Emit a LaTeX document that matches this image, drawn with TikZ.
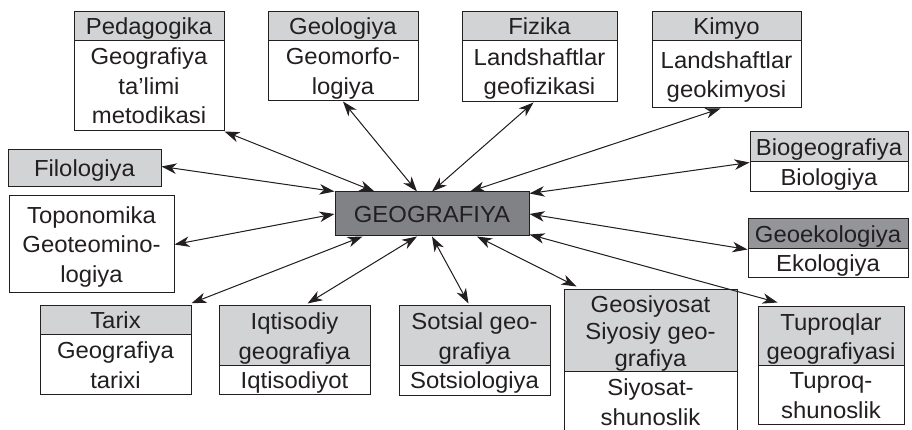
\documentclass[tikz,border=0pt]{standalone}
\usepackage{fontspec}
\setmainfont{Liberation Sans}[FakeStretch=1.03]
\usepackage{array}
\usetikzlibrary{arrows.meta}
\definecolor{lg}{HTML}{D1D3D4}
\definecolor{dg}{HTML}{808285}
\definecolor{mg}{HTML}{939598}
\definecolor{ink}{HTML}{231F20}
\newcommand\tb[2][29.5]{{\renewcommand\arraystretch{0}%
 \begin{tabular}{@{}>{\rule[\dimexpr(16.8pt-#1pt)/2\relax]{0pt}{#1pt}}c@{}}#2\end{tabular}}}
\begin{document}
\begin{tikzpicture}[x=1pt,y=1pt,
  >={Stealth[length=15pt,width=10.5pt,inset=4.5pt]},
  box/.style={draw=ink, line width=1pt, inner sep=0pt, text=ink, fill=white,
    font=\fontsize{23.2}{29.5}\selectfont},
  hd/.style={box, fill=lg},
  conn/.style={<->, draw=ink, fill=ink, line width=1pt}]
\useasboundingbox (0,0) rectangle (912,430);
% top row
\node[hd, minimum width=150pt, minimum height=29pt] (pedh) at (149,403.5) {\tb{Pedagogika}};
\node[box, minimum width=150pt, minimum height=90pt] (pedb) at (149,344) {\tb{Geografiya\\ta’limi\\metodikasi}};
\node[hd, minimum width=150pt, minimum height=29pt] (geoh) at (343,403.5) {\tb{Geologiya}};
\node[box, minimum width=150pt, minimum height=60pt] (geob) at (343,359) {\tb{Geomorfo-\\logiya}};
\node[hd, minimum width=155pt, minimum height=29pt] (fizh) at (539.5,403.5) {\tb{Fizika}};
\node[box, minimum width=155pt, minimum height=61pt] (fizb) at (539.5,358.5) {\tb{Landshaftlar\\geofizikasi}};
\node[hd, minimum width=149pt, minimum height=29pt] (kimh) at (726.5,403.5) {\tb{Kimyo}};
\node[box, minimum width=149pt, minimum height=67pt] (kimb) at (726.5,355.5) {\tb{Landshaftlar\\geokimyosi}};
% left
\node[hd, minimum width=153pt, minimum height=37pt] (fil) at (84.5,261.5) {\tb{Filologiya}};
\node[box, minimum width=165pt, minimum height=97pt] (top) at (91.5,185.5) {\tb{Toponomika\\Geoteomino-\\logiya}};
% centre
\node[box, fill=dg, minimum width=194pt, minimum height=44pt] (G) at (432,216) {\tb{GEOGRAFIYA}};
% right
\node[hd, minimum width=158pt, minimum height=30pt] (bioh) at (829,283) {\tb{Biogeografiya}};
\node[box, minimum width=158pt, minimum height=30pt] (biob) at (829,253) {\tb{Biologiya}};
\node[hd, fill=mg, minimum width=160pt, minimum height=30pt] (ekoh) at (828,196) {\tb{Geoekologiya}};
\node[box, minimum width=160pt, minimum height=28pt] (ekob) at (828,167) {\tb{Ekologiya}};
% bottom row
\node[hd, minimum width=151pt, minimum height=29pt] (tarh) at (115.5,109.5) {\tb{Tarix}};
\node[box, minimum width=151pt, minimum height=60pt] (tarb) at (115.5,65) {\tb{Geografiya\\tarixi}};
\node[hd, minimum width=151pt, minimum height=60pt] (iqth) at (294.5,94) {\tb{Iqtisodiy\\geografiya}};
\node[box, minimum width=151pt, minimum height=28pt] (iqtb) at (294.5,50) {\tb{Iqtisodiyot}};
\node[hd, minimum width=151pt, minimum height=60pt] (sotsh) at (474.5,94) {\tb{Sotsial geo-\\grafiya}};
\node[box, minimum width=151pt, minimum height=29pt] (sotsb) at (474.5,49.5) {\tb{Sotsiologiya}};
\node[hd, minimum width=173pt, minimum height=82pt] (geosh) at (650.5,99) {\tb[27]{Geosiyosat\\Siyosiy geo-\\grafiya}};
\node[box, minimum width=173pt, minimum height=60pt] (geosb) at (650.5,28) {\tb{Siyosat-\\shunoslik}};
\node[hd, minimum width=146pt, minimum height=59pt] (tuph) at (831,93.5) {\tb{Tuproqlar\\geografiyasi}};
\node[box, minimum width=146pt, minimum height=58pt] (tupb) at (831,35) {\tb{Tuproq-\\shunoslik}};
% connectors
\draw[conn] ([xshift=40pt]G.north west) -- (pedb.south east);
\draw[conn] (G.north west) -- ([yshift=2pt]fil.east);
\draw[conn] ([xshift=-15pt]G.north) -- (geob.south);
\draw[conn] (G.north) -- ([xshift=-6pt]fizb.south);
\draw[conn] ([xshift=38pt]G.north) -- ([xshift=-6pt]kimb.south);
\draw[conn] ([yshift=-2pt]G.north east) -- (bioh.south west);
\draw[conn] (G.east) -- (ekoh.south west);
\draw[conn] ([yshift=2pt]G.south east) -- ([xshift=20pt,yshift=4pt]tuph.north west);
\draw[conn] ([xshift=45pt]G.south) -- ([xshift=13pt,yshift=3pt]geosh.north west);
\draw[conn] (G.south) -- ([xshift=-6pt,yshift=2pt]sotsh.north);
\draw[conn] ([xshift=-15pt]G.south) -- ([xshift=13pt,yshift=2pt]iqth.north);
\draw[conn] ([xshift=28pt]G.south west) -- ([yshift=2pt]tarh.north east);
\draw[conn] (G.west) -- (top.east);
\end{tikzpicture}
\end{document}
